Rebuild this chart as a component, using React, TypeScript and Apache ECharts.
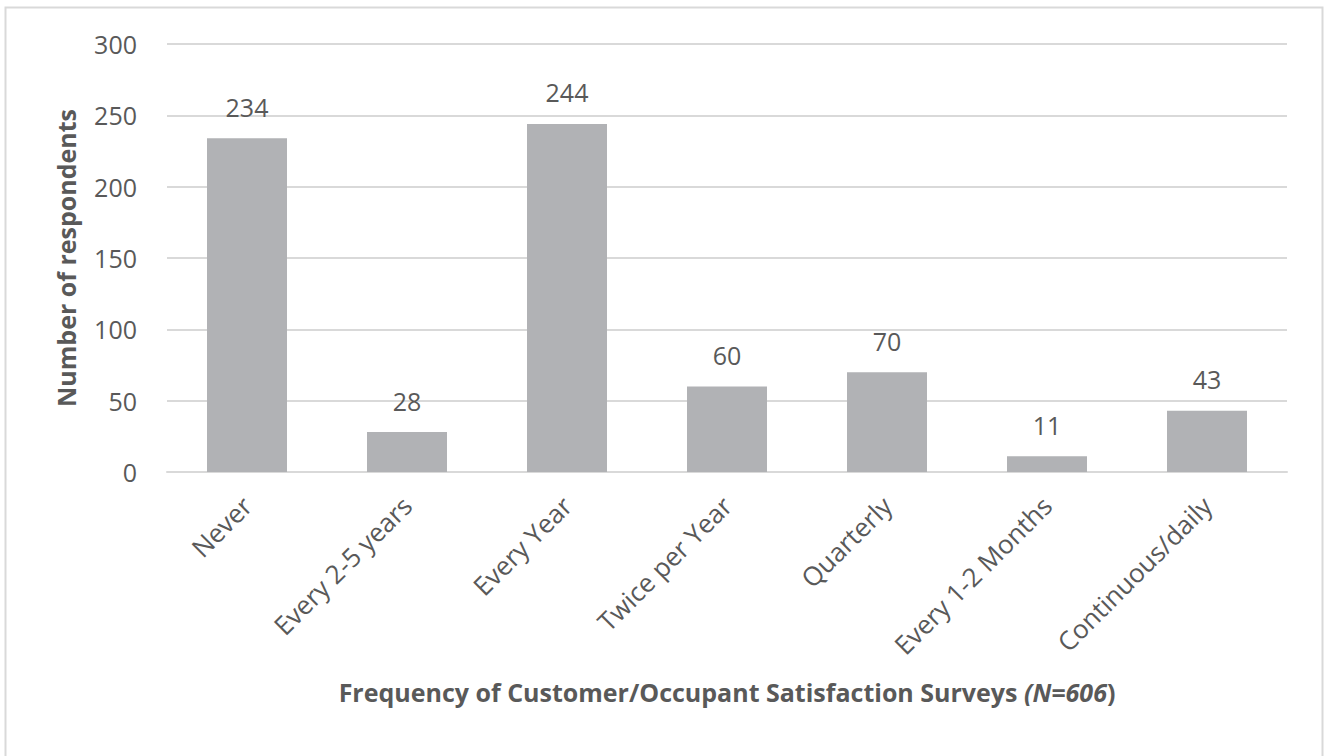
import React, { useEffect, useRef } from "react";
import * as echarts from "echarts";

const categories = [
  "Never",
  "Every 2-5 years",
  "Every Year",
  "Twice per Year",
  "Quarterly",
  "Every 1-2 Months",
  "Continuous/daily",
];
const respondents = [234, 28, 244, 60, 70, 11, 43];
const yTicks = { min: 0, max: 300, interval: 50 };
const yTitle = "Number of respondents";
const xTitleMain = "Frequency of Customer/Occupant Satisfaction Surveys ";
const xTitleItalic = "(N=606";
const xTitleEnd = ")";

export default function App() {
  const ref = useRef<HTMLDivElement>(null);
  useEffect(() => {
    if (!ref.current) return;
    const chart = echarts.init(ref.current, null, { renderer: "svg" });
    const font = "Open Sans";
    const txt = "#595959";
    const grid = "#D9D9D9";
    chart.setOption({
      animation: false,
      backgroundColor: "#ffffff",
      graphic: [
        {
          type: "rect",
          shape: { x: 5.5, y: 7.5, width: 1317, height: 760 },
          style: { fill: "none", stroke: grid, lineWidth: 2 },
          silent: true,
        },
      ],
      grid: { left: 167, right: 39, top: 44, bottom: 284, containLabel: false },
      xAxis: {
        type: "category",
        data: categories,
        axisTick: { show: false },
        axisLine: { show: true, lineStyle: { color: grid, width: 2 } },
        axisLabel: {
          rotate: 45,
          color: txt,
          fontFamily: font,
          fontSize: 26,
          margin: 29,
          interval: 0,
        },
        name: `{b|${xTitleMain}}{i|${xTitleItalic}}{b|${xTitleEnd}}`,
        nameLocation: "middle",
        nameGap: 207,
        nameTextStyle: {
          rich: {
            b: { fontFamily: font, fontSize: 25, fontWeight: "bold", color: txt },
            i: { fontFamily: font, fontSize: 25, fontWeight: "bold", fontStyle: "italic", color: txt },
          },
        },
      },
      yAxis: {
        type: "value",
        min: yTicks.min,
        max: yTicks.max,
        interval: yTicks.interval,
        axisLine: { show: false },
        axisTick: { show: false },
        splitLine: { lineStyle: { color: grid, width: 2 } },
        axisLabel: { color: txt, fontFamily: font, fontSize: 25, margin: 30 },
        name: yTitle,
        nameLocation: "middle",
        nameGap: 89,
        nameTextStyle: { color: txt, fontFamily: font, fontSize: 25, fontWeight: "bold" },
      },
      series: [
        {
          type: "bar",
          data: respondents,
          barWidth: "50%",
          itemStyle: { color: "#B1B2B5" },
          label: {
            show: true,
            position: "top",
            distance: 19,
            color: txt,
            fontFamily: font,
            fontSize: 25,
          },
        },
      ],
    });
    return () => chart.dispose();
  }, []);
  return (
    <div
      ref={ref}
      style={{ position: "fixed", left: 0, top: 0, width: 1326, height: 756 }}
    />
  );
}
